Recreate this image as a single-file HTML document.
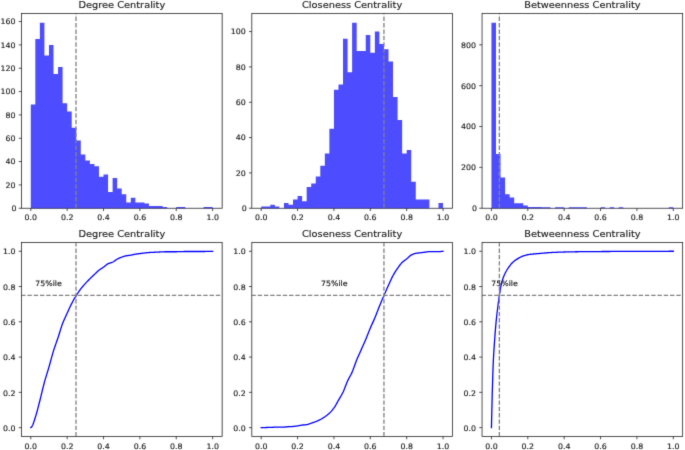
<!DOCTYPE html>
<html lang="en"><head><meta charset="utf-8"><title>Centrality distributions</title>
<style>html,body{margin:0;padding:0;background:#fff}svg{display:block}</style></head>
<body>
<svg width="685" height="450" viewBox="0 0 685 450" font-family="'DejaVu Sans', 'Liberation Sans', sans-serif" font-size="7.85" fill="#222222">
<style>text{stroke:#222222;stroke-width:0.16px;paint-order:stroke}</style>
<rect width="685" height="450" fill="#ffffff"/>
<defs><filter id="soft" x="0" y="0" width="685" height="450" filterUnits="userSpaceOnUse"><feConvolveMatrix order="3" kernelMatrix="0.0113 0.0838 0.0113 0.0838 0.6193 0.0838 0.0113 0.0838 0.0113" edgeMode="duplicate" preserveAlpha="false"/></filter></defs>
<g filter="url(#soft)" stroke-linecap="butt">
<path d="M30.78 208.25L30.78 104.4L35.33 104.4L35.33 39.06L39.87 39.06L39.87 22.73L44.42 22.73L44.42 55.4L48.97 55.4L48.97 44.9L53.51 44.9L53.51 74.07L58.06 74.07L58.06 67.07L62.6 67.07L62.6 103.24L67.15 103.24L67.15 111.4L71.7 111.4L71.7 127.74L76.24 127.74L76.24 140.57L80.79 140.57L80.79 154.58L85.34 154.58L85.34 160.41L89.88 160.41L89.88 163.91L94.43 163.91L94.43 166.24L98.97 166.24L98.97 176.75L103.52 176.75L103.52 174.41L108.07 174.41L108.07 191.91L112.61 191.91L112.61 177.91L117.16 177.91L117.16 188.41L121.7 188.41L121.7 194.25L126.25 194.25L126.25 202.42L130.8 202.42L130.8 197.75L135.34 197.75L135.34 202.42L139.89 202.42L139.89 202.42L144.44 202.42L144.44 203.58L148.98 203.58L148.98 205.92L153.53 205.92L153.53 205.92L158.07 205.92L158.07 205.92L162.62 205.92L162.62 207.08L167.17 207.08L167.17 208.25L171.71 208.25L171.71 208.25L176.26 208.25L176.26 207.08L180.81 207.08L180.81 207.08L185.35 207.08L185.35 208.25L189.9 208.25L189.9 208.25L194.44 208.25L194.44 208.25L198.99 208.25L198.99 208.25L203.54 208.25L203.54 207.08L208.08 207.08L208.08 207.08L212.63 207.08L212.63 208.25Z" fill="#4d4dff"/>
<path d="M76.01 208.25V13.45" stroke="#808080" stroke-width="1.3" stroke-dasharray="4.5 1.95" stroke-dashoffset="-0.2" fill="none"/>
<rect x="21.55" y="13.45" width="200.6" height="194.8" fill="none" stroke="#1a1a1a" stroke-width="0.75"/>
<text transform="translate(30.78 220.25) scale(1 0.96)" text-anchor="middle">0.0</text>
<text transform="translate(67.15 220.25) scale(1 0.96)" text-anchor="middle">0.2</text>
<text transform="translate(103.52 220.25) scale(1 0.96)" text-anchor="middle">0.4</text>
<text transform="translate(139.89 220.25) scale(1 0.96)" text-anchor="middle">0.6</text>
<text transform="translate(176.26 220.25) scale(1 0.96)" text-anchor="middle">0.8</text>
<text transform="translate(212.63 220.25) scale(1 0.96)" text-anchor="middle">1.0</text>
<path d="M30.78 208.25v2.8M67.15 208.25v2.8M103.52 208.25v2.8M139.89 208.25v2.8M176.26 208.25v2.8M212.63 208.25v2.8" stroke="#1a1a1a" stroke-width="0.75" fill="none"/>
<text transform="translate(16.4 211.15) scale(1 0.96)" text-anchor="end">0</text>
<text transform="translate(15.5 187.81) scale(1 0.96)" text-anchor="end">20</text>
<text transform="translate(15.5 164.48) scale(1 0.96)" text-anchor="end">40</text>
<text transform="translate(15.5 141.14) scale(1 0.96)" text-anchor="end">60</text>
<text transform="translate(15.5 117.8) scale(1 0.96)" text-anchor="end">80</text>
<text transform="translate(15.5 94.47) scale(1 0.96)" text-anchor="end">100</text>
<text transform="translate(15.5 71.13) scale(1 0.96)" text-anchor="end">120</text>
<text transform="translate(15.5 47.8) scale(1 0.96)" text-anchor="end">140</text>
<text transform="translate(15.5 24.46) scale(1 0.96)" text-anchor="end">160</text>
<path d="M21.55 208.25h-2.8M21.55 184.91h-2.8M21.55 161.58h-2.8M21.55 138.24h-2.8M21.55 114.9h-2.8M21.55 91.57h-2.8M21.55 68.23h-2.8M21.55 44.9h-2.8M21.55 21.56h-2.8" stroke="#1a1a1a" stroke-width="0.75" fill="none"/>
<text transform="translate(121.85 8.35) scale(1 0.96)" text-anchor="middle" font-size="9.8">Degree Centrality</text>
<path d="M261.2 208.25L261.2 206.48L265.75 206.48L265.75 206.48L270.29 206.48L270.29 204.72L274.84 204.72L274.84 206.48L279.38 206.48L279.38 208.25L283.93 208.25L283.93 202.95L288.48 202.95L288.48 204.72L293.02 204.72L293.02 199.42L297.57 199.42L297.57 195.88L302.12 195.88L302.12 201.18L306.66 201.18L306.66 187.05L311.21 187.05L311.21 183.51L315.75 183.51L315.75 176.45L320.3 176.45L320.3 165.84L324.85 165.84L324.85 153.48L329.39 153.48L329.39 128.74L333.94 128.74L333.94 89.87L338.49 89.87L338.49 84.57L343.03 84.57L343.03 38.63L347.58 38.63L347.58 72.2L352.12 72.2L352.12 22.73L356.67 22.73L356.67 51L361.22 51L361.22 51L365.76 51L365.76 35.09L370.31 35.09L370.31 52.76L374.86 52.76L374.86 31.56L379.4 31.56L379.4 43.93L383.95 43.93L383.95 49.23L388.5 49.23L388.5 61.6L393.04 61.6L393.04 96.94L397.59 96.94L397.59 119.91L402.13 119.91L402.13 153.48L406.68 153.48L406.68 149.94L411.23 149.94L411.23 181.75L415.77 181.75L415.77 199.42L420.32 199.42L420.32 199.42L424.87 199.42L424.87 199.42L429.41 199.42L429.41 208.25L433.96 208.25L433.96 208.25L438.5 208.25L438.5 202.95L443.05 202.95L443.05 208.25Z" fill="#4d4dff"/>
<path d="M383.95 208.25V13.45" stroke="#808080" stroke-width="1.3" stroke-dasharray="4.5 1.95" stroke-dashoffset="-0.2" fill="none"/>
<rect x="251.8" y="13.45" width="200.6" height="194.8" fill="none" stroke="#1a1a1a" stroke-width="0.75"/>
<text transform="translate(261.2 220.25) scale(1 0.96)" text-anchor="middle">0.0</text>
<text transform="translate(297.57 220.25) scale(1 0.96)" text-anchor="middle">0.2</text>
<text transform="translate(333.94 220.25) scale(1 0.96)" text-anchor="middle">0.4</text>
<text transform="translate(370.31 220.25) scale(1 0.96)" text-anchor="middle">0.6</text>
<text transform="translate(406.68 220.25) scale(1 0.96)" text-anchor="middle">0.8</text>
<text transform="translate(443.05 220.25) scale(1 0.96)" text-anchor="middle">1.0</text>
<path d="M261.2 208.25v2.8M297.57 208.25v2.8M333.94 208.25v2.8M370.31 208.25v2.8M406.68 208.25v2.8M443.05 208.25v2.8" stroke="#1a1a1a" stroke-width="0.75" fill="none"/>
<text transform="translate(246.65 211.15) scale(1 0.96)" text-anchor="end">0</text>
<text transform="translate(245.75 175.81) scale(1 0.96)" text-anchor="end">20</text>
<text transform="translate(245.75 140.47) scale(1 0.96)" text-anchor="end">40</text>
<text transform="translate(245.75 105.14) scale(1 0.96)" text-anchor="end">60</text>
<text transform="translate(245.75 69.8) scale(1 0.96)" text-anchor="end">80</text>
<text transform="translate(245.75 34.46) scale(1 0.96)" text-anchor="end">100</text>
<path d="M251.8 208.25h-2.8M251.8 172.91h-2.8M251.8 137.57h-2.8M251.8 102.24h-2.8M251.8 66.9h-2.8M251.8 31.56h-2.8" stroke="#1a1a1a" stroke-width="0.75" fill="none"/>
<text transform="translate(352.1 8.35) scale(1 0.96)" text-anchor="middle" font-size="9.8">Closeness Centrality</text>
<path d="M491.45 208.25L491.45 22.73L496 22.73L496 154.1L500.54 154.1L500.54 177.6L505.09 177.6L505.09 194.36L509.63 194.36L509.63 197.42L514.18 197.42L514.18 203.35L518.73 203.35L518.73 203.35L523.27 203.35L523.27 205.59L527.82 205.59L527.82 207.02L532.37 207.02L532.37 207.02L536.91 207.02L536.91 207.02L541.46 207.02L541.46 207.23L546 207.23L546 207.35L550.55 207.35L550.55 208.25L555.1 208.25L555.1 207.35L559.64 207.35L559.64 207.35L564.19 207.35L564.19 208.25L568.74 208.25L568.74 207.35L573.28 207.35L573.28 207.35L577.83 207.35L577.83 207.35L582.38 207.35L582.38 207.35L586.92 207.35L586.92 208.25L591.47 208.25L591.47 208.25L596.01 208.25L596.01 208.25L600.56 208.25L600.56 207.35L605.11 207.35L605.11 208.25L609.65 208.25L609.65 207.35L614.2 207.35L614.2 208.25L618.75 208.25L618.75 207.35L623.29 207.35L623.29 208.25L627.84 208.25L627.84 208.25L632.38 208.25L632.38 208.25L636.93 208.25L636.93 208.25L641.48 208.25L641.48 208.25L646.02 208.25L646.02 208.25L650.57 208.25L650.57 208.25L655.12 208.25L655.12 208.25L659.66 208.25L659.66 208.25L664.21 208.25L664.21 208.25L668.75 208.25L668.75 207.35L673.3 207.35L673.3 208.25Z" fill="#4d4dff"/>
<path d="M499.36 208.25V13.45" stroke="#808080" stroke-width="1.3" stroke-dasharray="4.5 1.95" stroke-dashoffset="-0.2" fill="none"/>
<rect x="482.05" y="13.45" width="200.6" height="194.8" fill="none" stroke="#1a1a1a" stroke-width="0.75"/>
<text transform="translate(491.45 220.25) scale(1 0.96)" text-anchor="middle">0.0</text>
<text transform="translate(527.82 220.25) scale(1 0.96)" text-anchor="middle">0.2</text>
<text transform="translate(564.19 220.25) scale(1 0.96)" text-anchor="middle">0.4</text>
<text transform="translate(600.56 220.25) scale(1 0.96)" text-anchor="middle">0.6</text>
<text transform="translate(636.93 220.25) scale(1 0.96)" text-anchor="middle">0.8</text>
<text transform="translate(673.3 220.25) scale(1 0.96)" text-anchor="middle">1.0</text>
<path d="M491.45 208.25v2.8M527.82 208.25v2.8M564.19 208.25v2.8M600.56 208.25v2.8M636.93 208.25v2.8M673.3 208.25v2.8" stroke="#1a1a1a" stroke-width="0.75" fill="none"/>
<text transform="translate(476.9 211.15) scale(1 0.96)" text-anchor="end">0</text>
<text transform="translate(476 170.29) scale(1 0.96)" text-anchor="end">200</text>
<text transform="translate(476 129.42) scale(1 0.96)" text-anchor="end">400</text>
<text transform="translate(476 88.56) scale(1 0.96)" text-anchor="end">600</text>
<text transform="translate(476 47.69) scale(1 0.96)" text-anchor="end">800</text>
<path d="M482.05 208.25h-2.8M482.05 167.39h-2.8M482.05 126.52h-2.8M482.05 85.66h-2.8M482.05 44.79h-2.8" stroke="#1a1a1a" stroke-width="0.75" fill="none"/>
<text transform="translate(582.35 8.35) scale(1 0.96)" text-anchor="middle" font-size="9.8">Betweenness Centrality</text>
<path d="M30.78 427.63L31.24 427.29L31.69 426.8L32.15 426.16L32.6 425.28L33.06 424.2L33.51 422.96L33.97 421.6L34.43 420.18L34.88 418.73L35.34 417.3L35.79 415.85L36.25 414.32L36.7 412.71L37.16 411.05L37.62 409.33L38.07 407.59L38.53 405.81L38.98 404.03L39.44 402.25L39.9 400.48L40.35 398.69L40.81 396.84L41.26 394.96L41.72 393.05L42.17 391.14L42.63 389.24L43.09 387.37L43.54 385.53L44 383.76L44.45 382.06L44.91 380.43L45.36 378.86L45.82 377.33L46.28 375.83L46.73 374.36L47.19 372.89L47.64 371.42L48.1 369.94L48.55 368.43L49.01 366.87L49.47 365.28L49.92 363.64L50.38 361.97L50.83 360.3L51.29 358.62L51.75 356.95L52.2 355.31L52.66 353.7L53.11 352.15L53.57 350.66L54.02 349.23L54.48 347.85L54.94 346.5L55.39 345.19L55.85 343.89L56.3 342.6L56.76 341.31L57.21 340.01L57.67 338.69L58.13 337.34L58.58 335.94L59.04 334.5L59.49 333.04L59.95 331.56L60.4 330.1L60.86 328.65L61.32 327.23L61.77 325.87L62.23 324.56L62.68 323.34L63.14 322.18L63.6 321.06L64.05 319.98L64.51 318.93L64.96 317.91L65.42 316.91L65.87 315.91L66.33 314.93L66.79 313.94L67.24 312.94L67.7 311.94L68.15 310.94L68.61 309.94L69.06 308.95L69.52 307.97L69.98 307.01L70.43 306.06L70.89 305.13L71.34 304.23L71.8 303.35L72.25 302.48L72.71 301.64L73.17 300.8L73.62 299.99L74.08 299.18L74.53 298.4L74.99 297.62L75.44 296.86L75.9 296.11L76.36 295.38L76.81 294.65L77.27 293.94L77.72 293.23L78.18 292.54L78.64 291.86L79.09 291.19L79.55 290.54L80 289.91L80.46 289.29L80.91 288.69L81.37 288.11L81.83 287.54L82.28 286.99L82.74 286.46L83.19 285.93L83.65 285.41L84.1 284.9L84.56 284.39L85.02 283.89L85.47 283.38L85.93 282.89L86.38 282.4L86.84 281.91L87.29 281.43L87.75 280.96L88.21 280.49L88.66 280.02L89.12 279.56L89.57 279.1L90.03 278.64L90.49 278.19L90.94 277.74L91.4 277.29L91.85 276.85L92.31 276.41L92.76 275.97L93.22 275.54L93.68 275.11L94.13 274.68L94.59 274.25L95.04 273.81L95.5 273.38L95.95 272.94L96.41 272.5L96.87 272.07L97.32 271.65L97.78 271.24L98.23 270.84L98.69 270.46L99.14 270.1L99.6 269.76L100.06 269.43L100.51 269.12L100.97 268.82L101.42 268.52L101.88 268.22L102.34 267.92L102.79 267.62L103.25 267.3L103.7 266.98L104.16 266.63L104.61 266.27L105.07 265.9L105.53 265.52L105.98 265.15L106.44 264.8L106.89 264.46L107.35 264.16L107.8 263.89L108.26 263.67L108.72 263.48L109.17 263.31L109.63 263.16L110.08 263.02L110.54 262.88L110.99 262.74L111.45 262.59L111.91 262.43L112.36 262.25L112.82 262.04L113.27 261.79L113.73 261.5L114.18 261.18L114.64 260.85L115.1 260.51L115.55 260.17L116.01 259.85L116.46 259.54L116.92 259.26L117.38 259.02L117.83 258.79L118.29 258.57L118.74 258.36L119.2 258.16L119.65 257.96L120.11 257.77L120.57 257.59L121.02 257.42L121.48 257.25L121.93 257.08L122.39 256.92L122.84 256.76L123.3 256.6L123.76 256.44L124.21 256.3L124.67 256.16L125.12 256.03L125.58 255.92L126.03 255.82L126.49 255.74L126.95 255.67L127.4 255.61L127.86 255.55L128.31 255.5L128.77 255.45L129.23 255.41L129.68 255.35L130.14 255.3L130.59 255.23L131.05 255.16L131.5 255.07L131.96 254.96L132.42 254.85L132.87 254.73L133.33 254.61L133.78 254.5L134.24 254.38L134.69 254.28L135.15 254.19L135.61 254.12L136.06 254.05L136.52 253.99L136.97 253.93L137.43 253.87L137.88 253.82L138.34 253.77L138.8 253.71L139.25 253.66L139.71 253.6L140.16 253.55L140.62 253.49L141.07 253.43L141.53 253.37L141.99 253.31L142.44 253.25L142.9 253.19L143.35 253.13L143.81 253.08L144.27 253.02L144.72 252.97L145.18 252.92L145.63 252.87L146.09 252.81L146.54 252.76L147 252.72L147.46 252.67L147.91 252.63L148.37 252.59L148.82 252.55L149.28 252.52L149.73 252.49L150.19 252.47L150.65 252.44L151.1 252.42L151.56 252.4L152.01 252.38L152.47 252.36L152.92 252.34L153.38 252.32L153.84 252.29L154.29 252.27L154.75 252.25L155.2 252.22L155.66 252.2L156.12 252.18L156.57 252.15L157.03 252.13L157.48 252.11L157.94 252.08L158.39 252.06L158.85 252.04L159.31 252.01L159.76 251.99L160.22 251.96L160.67 251.93L161.13 251.91L161.58 251.89L162.04 251.87L162.5 251.85L162.95 251.84L163.41 251.82L163.86 251.8L164.32 251.79L164.77 251.77L165.23 251.76L165.69 251.75L166.14 251.74L166.6 251.73L167.05 251.73L167.51 251.73L167.97 251.73L168.42 251.73L168.88 251.73L169.33 251.73L169.79 251.73L170.24 251.73L170.7 251.73L171.16 251.73L171.61 251.73L172.07 251.73L172.52 251.73L172.98 251.73L173.43 251.73L173.89 251.73L174.35 251.73L174.8 251.73L175.26 251.73L175.71 251.73L176.17 251.73L176.62 251.73L177.08 251.72L177.54 251.72L177.99 251.7L178.45 251.69L178.9 251.68L179.36 251.66L179.81 251.64L180.27 251.63L180.73 251.62L181.18 251.6L181.64 251.59L182.09 251.58L182.55 251.56L183.01 251.55L183.46 251.53L183.92 251.52L184.37 251.51L184.83 251.5L185.28 251.5L185.74 251.5L186.2 251.5L186.65 251.5L187.11 251.5L187.56 251.5L188.02 251.5L188.47 251.5L188.93 251.5L189.39 251.5L189.84 251.5L190.3 251.5L190.75 251.5L191.21 251.5L191.66 251.5L192.12 251.5L192.58 251.5L193.03 251.5L193.49 251.5L193.94 251.5L194.4 251.5L194.86 251.5L195.31 251.5L195.77 251.5L196.22 251.5L196.68 251.5L197.13 251.5L197.59 251.5L198.05 251.5L198.5 251.5L198.96 251.5L199.41 251.5L199.87 251.5L200.32 251.5L200.78 251.5L201.24 251.5L201.69 251.5L202.15 251.5L202.6 251.5L203.06 251.5L203.51 251.5L203.97 251.5L204.43 251.49L204.88 251.48L205.34 251.47L205.79 251.46L206.25 251.44L206.71 251.43L207.16 251.41L207.62 251.4L208.07 251.38L208.53 251.37L208.98 251.36L209.44 251.35L209.9 251.34L210.35 251.33L210.81 251.31L211.26 251.3L211.72 251.29L212.17 251.28L212.63 251.27" stroke="#0000ff" stroke-width="1.3" fill="none" stroke-linejoin="round" stroke-linecap="square"/>
<path d="M76.01 436.45V242.45" stroke="#808080" stroke-width="1.3" stroke-dasharray="4.4 1.93" fill="none"/>
<path d="M21.55 295.36H222.15" stroke="#808080" stroke-width="1.3" stroke-dasharray="4.38 1.9" stroke-dashoffset="0.4" fill="none"/>
<text transform="translate(35.2 286.1) scale(1 0.96)">75%ile</text>
<rect x="21.55" y="242.45" width="200.6" height="194" fill="none" stroke="#1a1a1a" stroke-width="0.75"/>
<text transform="translate(30.78 448.95) scale(1 0.96)" text-anchor="middle">0.0</text>
<text transform="translate(67.15 448.95) scale(1 0.96)" text-anchor="middle">0.2</text>
<text transform="translate(103.52 448.95) scale(1 0.96)" text-anchor="middle">0.4</text>
<text transform="translate(139.89 448.95) scale(1 0.96)" text-anchor="middle">0.6</text>
<text transform="translate(176.26 448.95) scale(1 0.96)" text-anchor="middle">0.8</text>
<text transform="translate(212.63 448.95) scale(1 0.96)" text-anchor="middle">1.0</text>
<path d="M30.78 436.45v2.8M67.15 436.45v2.8M103.52 436.45v2.8M139.89 436.45v2.8M176.26 436.45v2.8M212.63 436.45v2.8" stroke="#1a1a1a" stroke-width="0.75" fill="none"/>
<text transform="translate(15.5 430.83) scale(1 0.96)" text-anchor="end">0.0</text>
<text transform="translate(15.5 395.56) scale(1 0.96)" text-anchor="end">0.2</text>
<text transform="translate(15.5 360.29) scale(1 0.96)" text-anchor="end">0.4</text>
<text transform="translate(15.5 325.01) scale(1 0.96)" text-anchor="end">0.6</text>
<text transform="translate(15.5 289.74) scale(1 0.96)" text-anchor="end">0.8</text>
<text transform="translate(15.5 254.47) scale(1 0.96)" text-anchor="end">1.0</text>
<path d="M21.55 427.63h-2.8M21.55 392.36h-2.8M21.55 357.09h-2.8M21.55 321.81h-2.8M21.55 286.54h-2.8M21.55 251.27h-2.8" stroke="#1a1a1a" stroke-width="0.75" fill="none"/>
<text transform="translate(121.85 237.35) scale(1 0.96)" text-anchor="middle" font-size="9.8">Degree Centrality</text>
<path d="M261.2 427.63L261.66 427.62L262.11 427.61L262.57 427.6L263.02 427.59L263.48 427.57L263.93 427.56L264.39 427.55L264.85 427.54L265.3 427.53L265.76 427.52L266.21 427.5L266.67 427.49L267.12 427.48L267.58 427.47L268.04 427.46L268.49 427.45L268.95 427.44L269.4 427.43L269.86 427.41L270.32 427.4L270.77 427.38L271.23 427.36L271.68 427.34L272.14 427.31L272.59 427.28L273.05 427.26L273.51 427.23L273.96 427.21L274.42 427.19L274.87 427.17L275.33 427.15L275.78 427.14L276.24 427.12L276.7 427.11L277.15 427.09L277.61 427.08L278.06 427.07L278.52 427.06L278.97 427.06L279.43 427.05L279.89 427.05L280.34 427.05L280.8 427.05L281.25 427.05L281.71 427.05L282.17 427.05L282.62 427.05L283.08 427.05L283.53 427.05L283.99 427.05L284.44 427.04L284.9 427.02L285.36 426.99L285.81 426.95L286.27 426.91L286.72 426.86L287.18 426.82L287.63 426.77L288.09 426.73L288.55 426.7L289 426.68L289.46 426.65L289.91 426.63L290.37 426.61L290.82 426.59L291.28 426.57L291.74 426.55L292.19 426.53L292.65 426.5L293.1 426.47L293.56 426.43L294.02 426.39L294.47 426.33L294.93 426.28L295.38 426.22L295.84 426.15L296.29 426.09L296.75 426.02L297.21 425.95L297.66 425.88L298.12 425.81L298.57 425.73L299.03 425.64L299.48 425.55L299.94 425.46L300.4 425.37L300.85 425.29L301.31 425.21L301.76 425.14L302.22 425.07L302.67 425.02L303.13 424.98L303.59 424.94L304.04 424.9L304.5 424.86L304.95 424.82L305.41 424.78L305.86 424.73L306.32 424.67L306.78 424.61L307.23 424.52L307.69 424.41L308.14 424.28L308.6 424.14L309.06 423.99L309.51 423.83L309.97 423.67L310.42 423.51L310.88 423.35L311.33 423.2L311.79 423.05L312.25 422.89L312.7 422.74L313.16 422.58L313.61 422.42L314.07 422.26L314.52 422.09L314.98 421.92L315.44 421.74L315.89 421.56L316.35 421.38L316.8 421.19L317.26 420.99L317.71 420.79L318.17 420.58L318.63 420.37L319.08 420.15L319.54 419.93L319.99 419.7L320.45 419.46L320.91 419.21L321.36 418.96L321.82 418.7L322.27 418.43L322.73 418.15L323.18 417.86L323.64 417.57L324.1 417.27L324.55 416.96L325.01 416.65L325.46 416.33L325.92 416.01L326.37 415.67L326.83 415.33L327.29 414.98L327.74 414.61L328.2 414.24L328.65 413.85L329.11 413.44L329.56 413.01L330.02 412.57L330.48 412.11L330.93 411.63L331.39 411.14L331.84 410.62L332.3 410.08L332.76 409.52L333.21 408.94L333.67 408.34L334.12 407.72L334.58 407.04L335.03 406.33L335.49 405.57L335.95 404.78L336.4 403.97L336.86 403.15L337.31 402.32L337.77 401.5L338.22 400.68L338.68 399.89L339.14 399.11L339.59 398.34L340.05 397.57L340.5 396.8L340.96 396.01L341.41 395.21L341.87 394.39L342.33 393.53L342.78 392.64L343.24 391.7L343.69 390.68L344.15 389.59L344.6 388.45L345.06 387.28L345.52 386.09L345.97 384.91L346.43 383.75L346.88 382.62L347.34 381.56L347.8 380.56L348.25 379.63L348.71 378.74L349.16 377.89L349.62 377.05L350.07 376.21L350.53 375.37L350.99 374.5L351.44 373.59L351.9 372.63L352.35 371.59L352.81 370.48L353.26 369.29L353.72 368.06L354.18 366.78L354.63 365.5L355.09 364.21L355.54 362.94L356 361.7L356.45 360.52L356.91 359.4L357.37 358.31L357.82 357.25L358.28 356.21L358.73 355.19L359.19 354.18L359.65 353.18L360.1 352.17L360.56 351.17L361.01 350.15L361.47 349.12L361.92 348.1L362.38 347.08L362.84 346.06L363.29 345.05L363.75 344.03L364.2 343L364.66 341.96L365.11 340.91L365.57 339.85L366.03 338.76L366.48 337.65L366.94 336.51L367.39 335.36L367.85 334.2L368.3 333.03L368.76 331.87L369.22 330.72L369.67 329.6L370.13 328.49L370.58 327.42L371.04 326.38L371.49 325.36L371.95 324.36L372.41 323.37L372.86 322.38L373.32 321.38L373.77 320.37L374.23 319.34L374.69 318.29L375.14 317.2L375.6 316.07L376.05 314.92L376.51 313.75L376.96 312.57L377.42 311.38L377.88 310.19L378.33 309.01L378.79 307.85L379.24 306.71L379.7 305.59L380.15 304.49L380.61 303.39L381.07 302.31L381.52 301.23L381.98 300.16L382.43 299.09L382.89 298.03L383.34 296.97L383.8 295.91L384.26 294.85L384.71 293.78L385.17 292.72L385.62 291.67L386.08 290.61L386.54 289.56L386.99 288.52L387.45 287.49L387.9 286.47L388.36 285.45L388.81 284.45L389.27 283.44L389.73 282.43L390.18 281.42L390.64 280.42L391.09 279.44L391.55 278.48L392 277.55L392.46 276.65L392.92 275.78L393.37 274.96L393.83 274.16L394.28 273.37L394.74 272.61L395.19 271.87L395.65 271.15L396.11 270.45L396.56 269.76L397.02 269.09L397.47 268.43L397.93 267.78L398.39 267.14L398.84 266.5L399.3 265.88L399.75 265.27L400.21 264.68L400.66 264.11L401.12 263.57L401.58 263.06L402.03 262.59L402.49 262.15L402.94 261.75L403.4 261.37L403.85 261.02L404.31 260.67L404.77 260.34L405.22 260.01L405.68 259.67L406.13 259.33L406.59 258.97L407.04 258.59L407.5 258.19L407.96 257.77L408.41 257.34L408.87 256.91L409.32 256.49L409.78 256.1L410.23 255.73L410.69 255.4L411.15 255.13L411.6 254.89L412.06 254.66L412.51 254.45L412.97 254.25L413.43 254.06L413.88 253.88L414.34 253.73L414.79 253.58L415.25 253.46L415.7 253.36L416.16 253.28L416.62 253.21L417.07 253.14L417.53 253.08L417.98 253.03L418.44 252.98L418.89 252.93L419.35 252.88L419.81 252.83L420.26 252.78L420.72 252.72L421.17 252.66L421.63 252.6L422.08 252.55L422.54 252.49L423 252.43L423.45 252.37L423.91 252.32L424.36 252.26L424.82 252.2L425.28 252.14L425.73 252.07L426.19 251.99L426.64 251.91L427.1 251.84L427.55 251.77L428.01 251.71L428.47 251.66L428.92 251.63L429.38 251.62L429.83 251.62L430.29 251.62L430.74 251.62L431.2 251.62L431.66 251.62L432.11 251.62L432.57 251.62L433.02 251.62L433.48 251.62L433.93 251.62L434.39 251.62L434.85 251.62L435.3 251.62L435.76 251.62L436.21 251.62L436.67 251.62L437.13 251.62L437.58 251.62L438.04 251.62L438.49 251.62L438.95 251.61L439.4 251.6L439.86 251.57L440.32 251.54L440.77 251.51L441.23 251.47L441.68 251.42L442.14 251.37L442.59 251.32L443.05 251.27" stroke="#0000ff" stroke-width="1.3" fill="none" stroke-linejoin="round" stroke-linecap="square"/>
<path d="M383.95 436.45V242.45" stroke="#808080" stroke-width="1.3" stroke-dasharray="4.4 1.93" fill="none"/>
<path d="M251.8 295.36H452.4" stroke="#808080" stroke-width="1.3" stroke-dasharray="4.38 1.9" stroke-dashoffset="0.4" fill="none"/>
<text transform="translate(321 286.1) scale(1 0.96)">75%ile</text>
<rect x="251.8" y="242.45" width="200.6" height="194" fill="none" stroke="#1a1a1a" stroke-width="0.75"/>
<text transform="translate(261.2 448.95) scale(1 0.96)" text-anchor="middle">0.0</text>
<text transform="translate(297.57 448.95) scale(1 0.96)" text-anchor="middle">0.2</text>
<text transform="translate(333.94 448.95) scale(1 0.96)" text-anchor="middle">0.4</text>
<text transform="translate(370.31 448.95) scale(1 0.96)" text-anchor="middle">0.6</text>
<text transform="translate(406.68 448.95) scale(1 0.96)" text-anchor="middle">0.8</text>
<text transform="translate(443.05 448.95) scale(1 0.96)" text-anchor="middle">1.0</text>
<path d="M261.2 436.45v2.8M297.57 436.45v2.8M333.94 436.45v2.8M370.31 436.45v2.8M406.68 436.45v2.8M443.05 436.45v2.8" stroke="#1a1a1a" stroke-width="0.75" fill="none"/>
<text transform="translate(245.75 430.83) scale(1 0.96)" text-anchor="end">0.0</text>
<text transform="translate(245.75 395.56) scale(1 0.96)" text-anchor="end">0.2</text>
<text transform="translate(245.75 360.29) scale(1 0.96)" text-anchor="end">0.4</text>
<text transform="translate(245.75 325.01) scale(1 0.96)" text-anchor="end">0.6</text>
<text transform="translate(245.75 289.74) scale(1 0.96)" text-anchor="end">0.8</text>
<text transform="translate(245.75 254.47) scale(1 0.96)" text-anchor="end">1.0</text>
<path d="M251.8 427.63h-2.8M251.8 392.36h-2.8M251.8 357.09h-2.8M251.8 321.81h-2.8M251.8 286.54h-2.8M251.8 251.27h-2.8" stroke="#1a1a1a" stroke-width="0.75" fill="none"/>
<text transform="translate(352.1 237.35) scale(1 0.96)" text-anchor="middle" font-size="9.8">Closeness Centrality</text>
<path d="M491.45 427.63L491.54 423.54L491.63 419.51L491.72 415.56L491.82 411.68L491.91 407.84L492 404L492.09 400.22L492.18 396.54L492.27 393.03L492.36 389.73L492.46 386.55L492.55 383.41L492.64 380.32L492.73 377.31L492.82 374.4L492.91 371.62L493 368.98L493.09 366.52L493.19 364.24L493.28 362.18L493.37 360.27L493.46 358.46L493.55 356.73L493.64 355.09L493.73 353.52L493.83 352.01L493.92 350.55L494.01 349.15L494.1 347.79L494.19 346.46L494.28 345.15L494.37 343.86L494.47 342.58L494.56 341.3L494.65 340.01L494.74 338.72L494.83 337.45L494.92 336.19L495.01 334.95L495.11 333.73L495.2 332.53L495.29 331.35L495.38 330.19L495.47 329.05L495.56 327.94L495.65 326.86L495.74 325.8L495.84 324.77L495.93 323.78L496.02 322.81L496.11 321.87L496.2 320.95L496.29 320.05L496.38 319.17L496.48 318.32L496.57 317.47L496.66 316.65L496.75 315.83L496.84 315.03L496.93 314.24L497.02 313.47L497.12 312.7L497.21 311.94L497.3 311.18L497.39 310.43L497.48 309.68L497.57 308.94L497.66 308.19L497.76 307.45L497.85 306.7L497.94 305.96L498.03 305.22L498.12 304.48L498.21 303.75L498.3 303.02L498.4 302.3L498.49 301.59L498.58 300.89L498.67 300.19L498.76 299.51L498.85 298.84L498.94 298.18L499.03 297.53L499.13 296.9L499.22 296.29L499.31 295.69L499.4 295.11L499.49 294.53L499.58 293.96L499.67 293.39L499.77 292.82L499.86 292.26L499.95 291.7L500.04 291.14L500.13 290.6L500.22 290.06L500.31 289.52L500.41 289L500.5 288.48L500.59 287.97L500.68 287.47L500.77 286.98L500.86 286.5L500.95 286.03L501.05 285.57L501.14 285.12L501.23 284.69L501.32 284.26L501.41 283.86L501.5 283.46L501.59 283.08L501.68 282.72L501.78 282.37L501.87 282.03L501.96 281.7L502.05 281.38L502.14 281.06L502.23 280.75L502.32 280.45L502.42 280.15L502.51 279.85L502.6 279.57L502.69 279.28L502.78 279L502.87 278.73L502.96 278.46L503.06 278.2L503.15 277.94L503.24 277.69L503.33 277.44L503.42 277.19L503.51 276.95L503.6 276.71L503.7 276.48L503.79 276.25L503.88 276.02L503.97 275.8L504.06 275.58L504.15 275.36L504.24 275.15L504.33 274.94L504.43 274.73L504.52 274.53L504.61 274.33L504.7 274.13L504.79 273.93L504.88 273.74L504.97 273.55L505.07 273.36L505.16 273.17L505.25 272.99L505.34 272.81L505.43 272.63L505.52 272.45L505.61 272.27L505.71 272.1L505.8 271.93L505.89 271.76L505.98 271.59L506.07 271.42L506.16 271.26L506.25 271.09L506.35 270.93L506.44 270.77L506.53 270.62L506.62 270.46L506.71 270.31L506.8 270.15L506.89 270L506.98 269.85L507.08 269.71L507.17 269.56L507.26 269.42L507.35 269.27L507.44 269.13L507.53 268.99L507.62 268.85L507.72 268.71L507.81 268.57L507.9 268.44L507.99 268.3L508.08 268.17L508.17 268.03L508.26 267.9L508.36 267.77L508.45 267.64L508.54 267.51L508.63 267.38L508.72 267.26L508.81 267.13L508.9 267L509 266.88L509.09 266.75L509.18 266.63L509.27 266.51L509.36 266.38L509.45 266.26L509.54 266.14L509.63 266.02L510.46 264.95L511.28 263.93L512.1 263L512.92 262.16L513.75 261.42L514.57 260.77L515.39 260.17L516.21 259.61L517.04 259.09L517.86 258.61L518.68 258.15L519.5 257.69L520.33 257.25L521.15 256.83L521.97 256.45L522.79 256.1L523.62 255.8L524.44 255.55L525.26 255.32L526.08 255.12L526.91 254.93L527.73 254.76L528.55 254.61L529.37 254.48L530.2 254.37L531.02 254.26L531.84 254.17L532.66 254.08L533.49 253.99L534.31 253.91L535.13 253.84L535.95 253.77L536.78 253.7L537.6 253.63L538.42 253.56L539.24 253.5L540.07 253.43L540.89 253.35L541.71 253.28L542.53 253.2L543.35 253.13L544.18 253.05L545 252.98L545.82 252.91L546.64 252.83L547.47 252.77L548.29 252.7L549.11 252.64L549.93 252.59L550.76 252.54L551.58 252.5L552.4 252.46L553.22 252.42L554.05 252.38L554.87 252.35L555.69 252.31L556.51 252.28L557.34 252.24L558.16 252.21L558.98 252.18L559.8 252.15L560.63 252.12L561.45 252.09L562.27 252.06L563.09 252.04L563.92 252.01L564.74 251.99L565.56 251.96L566.38 251.94L567.21 251.92L568.03 251.9L568.85 251.88L569.67 251.86L570.5 251.85L571.32 251.83L572.14 251.82L572.96 251.8L573.79 251.79L574.61 251.78L575.43 251.77L576.25 251.75L577.07 251.74L577.9 251.73L578.72 251.72L579.54 251.71L580.36 251.7L581.19 251.69L582.01 251.68L582.83 251.68L583.65 251.67L584.48 251.66L585.3 251.65L586.12 251.64L586.94 251.64L587.77 251.63L588.59 251.62L589.41 251.61L590.23 251.61L591.06 251.6L591.88 251.59L592.7 251.59L593.52 251.58L594.35 251.58L595.17 251.57L595.99 251.56L596.81 251.56L597.64 251.55L598.46 251.55L599.28 251.54L600.1 251.54L600.93 251.53L601.75 251.52L602.57 251.52L603.39 251.51L604.22 251.51L605.04 251.5L605.86 251.5L606.68 251.49L607.51 251.49L608.33 251.48L609.15 251.48L609.97 251.48L610.79 251.47L611.62 251.47L612.44 251.46L613.26 251.46L614.08 251.45L614.91 251.45L615.73 251.44L616.55 251.44L617.37 251.44L618.2 251.43L619.02 251.43L619.84 251.42L620.66 251.42L621.49 251.42L622.31 251.41L623.13 251.41L623.95 251.41L624.78 251.4L625.6 251.4L626.42 251.4L627.24 251.39L628.07 251.39L628.89 251.39L629.71 251.38L630.53 251.38L631.36 251.38L632.18 251.37L633 251.37L633.82 251.37L634.65 251.36L635.47 251.36L636.29 251.36L637.11 251.36L637.94 251.35L638.76 251.35L639.58 251.35L640.4 251.35L641.22 251.34L642.05 251.34L642.87 251.34L643.69 251.34L644.51 251.33L645.34 251.33L646.16 251.33L646.98 251.33L647.8 251.32L648.63 251.32L649.45 251.32L650.27 251.32L651.09 251.31L651.92 251.31L652.74 251.31L653.56 251.31L654.38 251.3L655.21 251.3L656.03 251.3L656.85 251.3L657.67 251.3L658.5 251.29L659.32 251.29L660.14 251.29L660.96 251.29L661.79 251.29L662.61 251.29L663.43 251.28L664.25 251.28L665.08 251.28L665.9 251.28L666.72 251.28L667.54 251.28L668.37 251.28L669.19 251.27L670.01 251.27L670.83 251.27L671.66 251.27L672.48 251.27L673.3 251.27" stroke="#0000ff" stroke-width="1.3" fill="none" stroke-linejoin="round" stroke-linecap="square"/>
<path d="M499.36 436.45V242.45" stroke="#808080" stroke-width="1.3" stroke-dasharray="4.4 1.93" fill="none"/>
<path d="M482.05 295.36H682.65" stroke="#808080" stroke-width="1.3" stroke-dasharray="4.38 1.9" stroke-dashoffset="0.4" fill="none"/>
<text transform="translate(491.2 286.1) scale(1 0.96)">75%ile</text>
<rect x="482.05" y="242.45" width="200.6" height="194" fill="none" stroke="#1a1a1a" stroke-width="0.75"/>
<text transform="translate(491.45 448.95) scale(1 0.96)" text-anchor="middle">0.0</text>
<text transform="translate(527.82 448.95) scale(1 0.96)" text-anchor="middle">0.2</text>
<text transform="translate(564.19 448.95) scale(1 0.96)" text-anchor="middle">0.4</text>
<text transform="translate(600.56 448.95) scale(1 0.96)" text-anchor="middle">0.6</text>
<text transform="translate(636.93 448.95) scale(1 0.96)" text-anchor="middle">0.8</text>
<text transform="translate(673.3 448.95) scale(1 0.96)" text-anchor="middle">1.0</text>
<path d="M491.45 436.45v2.8M527.82 436.45v2.8M564.19 436.45v2.8M600.56 436.45v2.8M636.93 436.45v2.8M673.3 436.45v2.8" stroke="#1a1a1a" stroke-width="0.75" fill="none"/>
<text transform="translate(476 430.83) scale(1 0.96)" text-anchor="end">0.0</text>
<text transform="translate(476 395.56) scale(1 0.96)" text-anchor="end">0.2</text>
<text transform="translate(476 360.29) scale(1 0.96)" text-anchor="end">0.4</text>
<text transform="translate(476 325.01) scale(1 0.96)" text-anchor="end">0.6</text>
<text transform="translate(476 289.74) scale(1 0.96)" text-anchor="end">0.8</text>
<text transform="translate(476 254.47) scale(1 0.96)" text-anchor="end">1.0</text>
<path d="M482.05 427.63h-2.8M482.05 392.36h-2.8M482.05 357.09h-2.8M482.05 321.81h-2.8M482.05 286.54h-2.8M482.05 251.27h-2.8" stroke="#1a1a1a" stroke-width="0.75" fill="none"/>
<text transform="translate(582.35 237.35) scale(1 0.96)" text-anchor="middle" font-size="9.8">Betweenness Centrality</text>
</g>
</svg>
</body></html>
